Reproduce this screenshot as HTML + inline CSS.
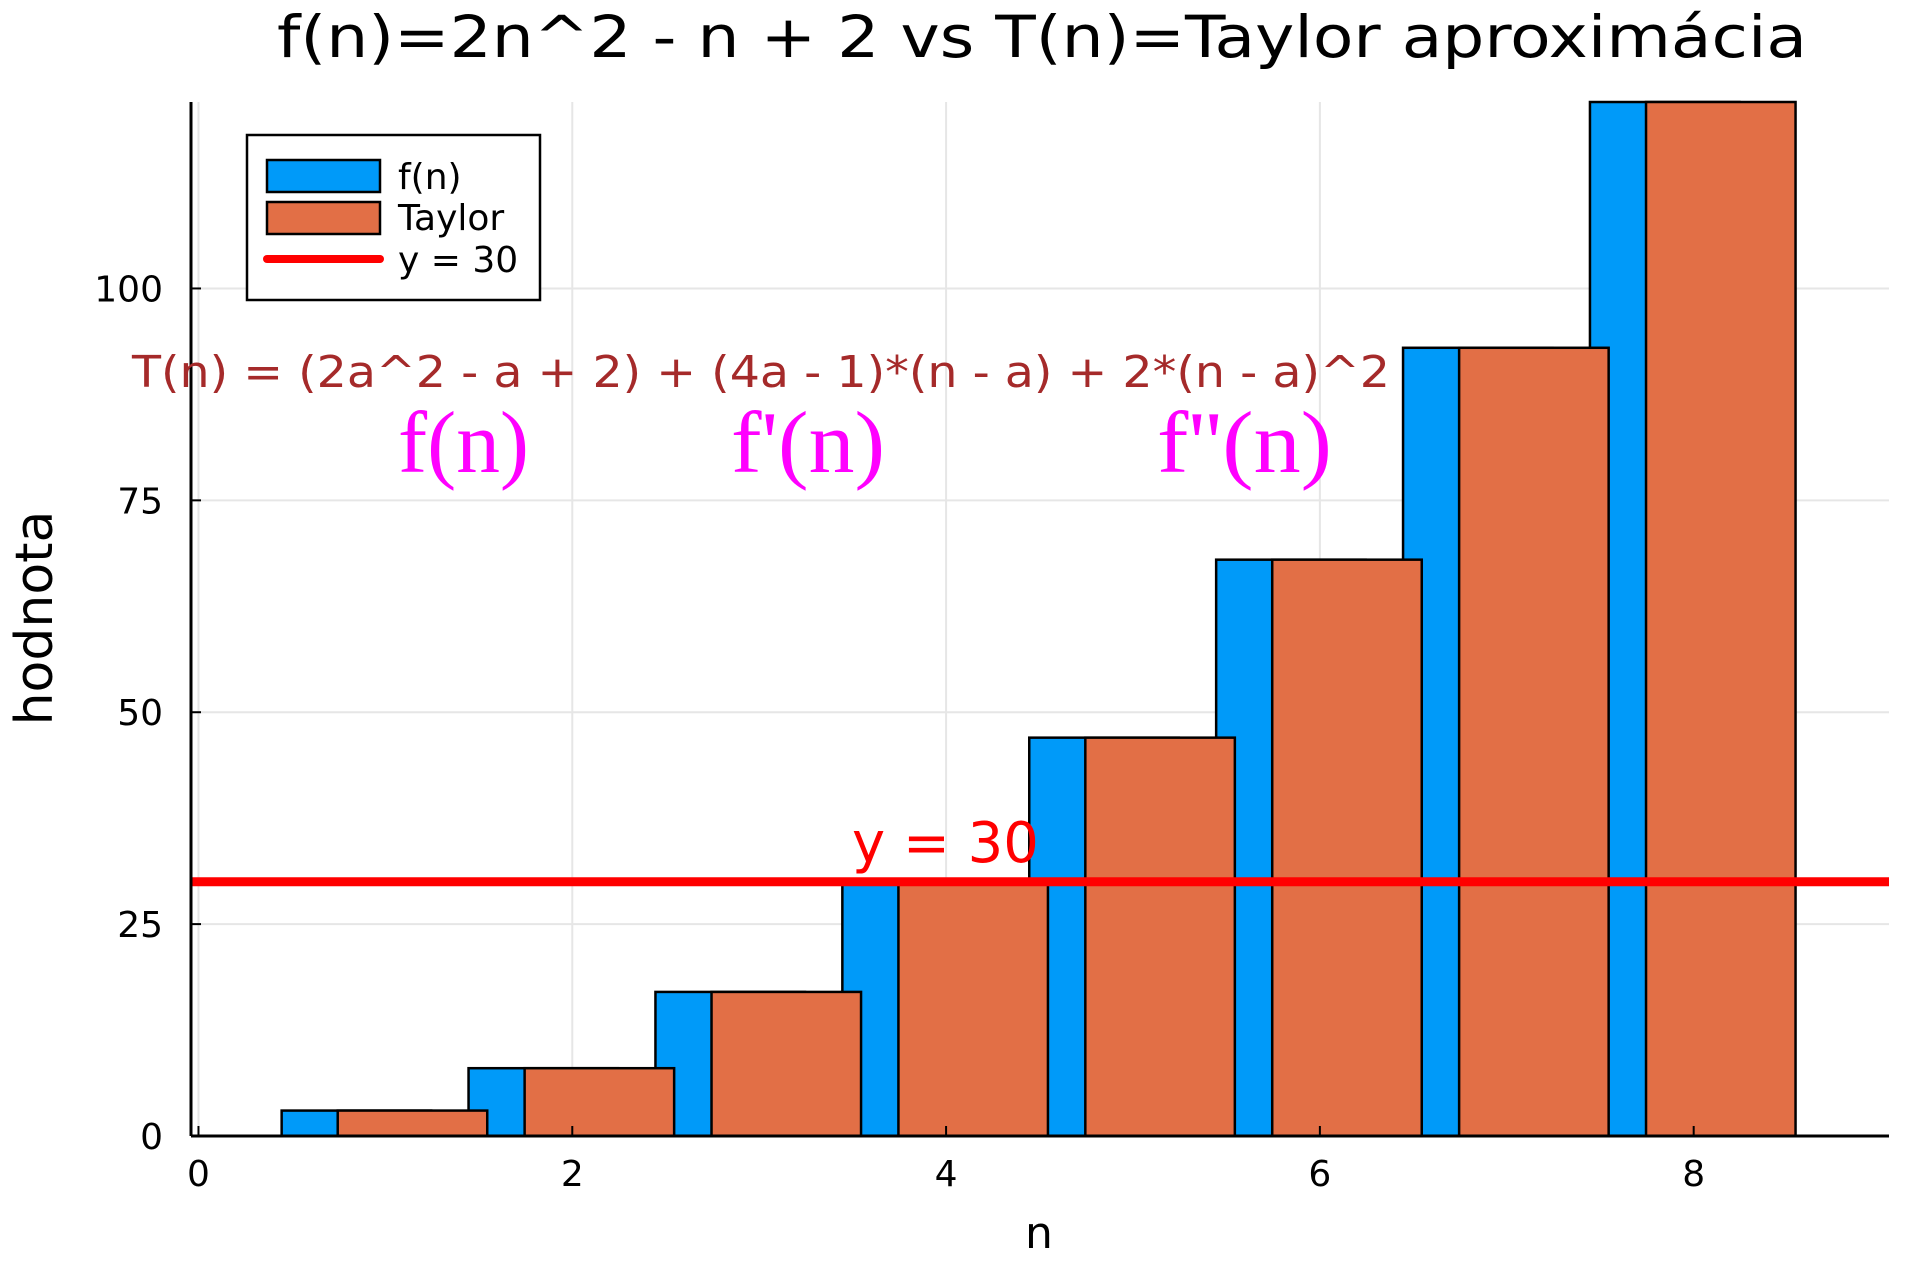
<!DOCTYPE html>
<html><head><meta charset="utf-8"><style>html,body{margin:0;padding:0;background:#fff}svg{display:block}</style></head>
<body>
<svg id="chart" width="1920" height="1266" xmlns="http://www.w3.org/2000/svg" font-family="'DejaVu Sans','Liberation Sans',sans-serif">
<rect width="1920" height="1266" fill="#fff"/>
<g id="grid"></g>
<g id="bars"></g>
<g id="axes"></g>
<text x="1042" y="57" font-size="58" text-anchor="middle" textLength="1530" lengthAdjust="spacingAndGlyphs">f(n)=2n^2 - n + 2 vs T(n)=Taylor aproximácia</text>
<text transform="translate(52,618) rotate(-90)" font-size="52" text-anchor="middle">hodnota</text>
<text x="1039" y="1248" font-size="44" text-anchor="middle">n</text>
<text x="132" y="387" font-size="44" fill="#a52a2a" textLength="1258" lengthAdjust="spacingAndGlyphs">T(n) = (2a^2 - a + 2) + (4a - 1)*(n - a) + 2*(n - a)^2</text>
<text x="398" y="472" font-size="88" fill="#ff00ff" font-family="'Liberation Serif','DejaVu Serif',serif" textLength="131" lengthAdjust="spacingAndGlyphs">f(n)</text>
<text x="731" y="472" font-size="88" fill="#ff00ff" font-family="'Liberation Serif','DejaVu Serif',serif" textLength="154" lengthAdjust="spacingAndGlyphs">f'(n)</text>
<text x="1157" y="472" font-size="88" fill="#ff00ff" font-family="'Liberation Serif','DejaVu Serif',serif" textLength="175" lengthAdjust="spacingAndGlyphs">f''(n)</text>
<text x="852" y="862" font-size="56" fill="#ff0000">y = 30</text>
<g>
<rect x="247" y="135" width="293" height="165" fill="#fff" stroke="#000" stroke-width="2.5"/>
<rect x="267" y="160" width="113" height="32" fill="#009af9" stroke="#000" stroke-width="2.5"/>
<text x="398" y="189" font-size="36">f(n)</text>
<rect x="267" y="202" width="113" height="32" fill="#e26f46" stroke="#000" stroke-width="2.5"/>
<text x="398" y="230" font-size="36">Taylor</text>
<line x1="267" y1="259" x2="380" y2="259" stroke="#ff0000" stroke-width="8" stroke-linecap="round"/>
<text x="398" y="272" font-size="36">y = 30</text>
</g>
<script>
const categories = [1,2,3,4,5,6,7,8];
const fValues = [3,8,17,30,47,68,93,122];
const taylorValues = [3,8,17,30,47,68,93,122];
const xTicks = [0,2,4,6,8];
const yTicks = [0,25,50,75,100];
const hLineValue = 30;
const NS='http://www.w3.org/2000/svg';
const L=191,R=1889,T=102,B=1136;
const xMin=-0.04,xMax=9.045,yMin=0,yMax=122;
const xs=v=>L+(v-xMin)/(xMax-xMin)*(R-L);
const ys=v=>B-(v-yMin)/(yMax-yMin)*(B-T);
function mk(tag,attrs,parent){const e=document.createElementNS(NS,tag);for(const k in attrs)e.setAttribute(k,attrs[k]);parent.appendChild(e);return e;}
const grid=document.getElementById('grid'),bars=document.getElementById('bars'),axes=document.getElementById('axes');
xTicks.forEach(t=>{const l=mk('line',{x1:xs(t),x2:xs(t),y1:T,y2:B,stroke:'#e6e6e6','stroke-width':2},grid);

});
yTicks.forEach(t=>{const l=mk('line',{x1:L,x2:R,y1:ys(t),y2:ys(t),stroke:'#e6e6e6','stroke-width':2},grid);

});
const w=0.8;
categories.forEach((c,i)=>{
 const top=Math.max(ys(fValues[i]),T);
 const b=mk('rect',{x:xs(c-0.155-w/2),y:top,width:xs(w)-xs(0),height:B-top,fill:'#009af9',stroke:'#000','stroke-width':2.5},bars);
 
 
});
categories.forEach((c,i)=>{
 const top=Math.max(ys(taylorValues[i]),T);
 const b=mk('rect',{x:xs(c+0.145-w/2),y:top,width:xs(w)-xs(0),height:B-top,fill:'#e26f46',stroke:'#000','stroke-width':2.5},bars);
 
 
});
const hl=mk('line',{x1:L,x2:R,y1:ys(hLineValue),y2:ys(hLineValue),stroke:'#ff0000','stroke-width':9},bars);


mk('line',{x1:L,x2:L,y1:T,y2:B,stroke:'#000','stroke-width':3},axes);
mk('line',{x1:L,x2:R,y1:B,y2:B,stroke:'#000','stroke-width':3},axes);
xTicks.forEach(t=>{mk('line',{x1:xs(t),x2:xs(t),y1:B,y2:B-10,stroke:'#000','stroke-width':2},axes);
 const tx=mk('text',{x:xs(t),y:1186,'font-size':36,'text-anchor':'middle'},axes);tx.textContent=t;
 
 });
yTicks.forEach(t=>{mk('line',{x1:L,x2:L+10,y1:ys(t),y2:ys(t),stroke:'#000','stroke-width':2},axes);
 const tx=mk('text',{x:163,y:ys(t)+13,'font-size':36,'text-anchor':'end'},axes);tx.textContent=t;
 
 });
</script>
</svg>
</body></html>
